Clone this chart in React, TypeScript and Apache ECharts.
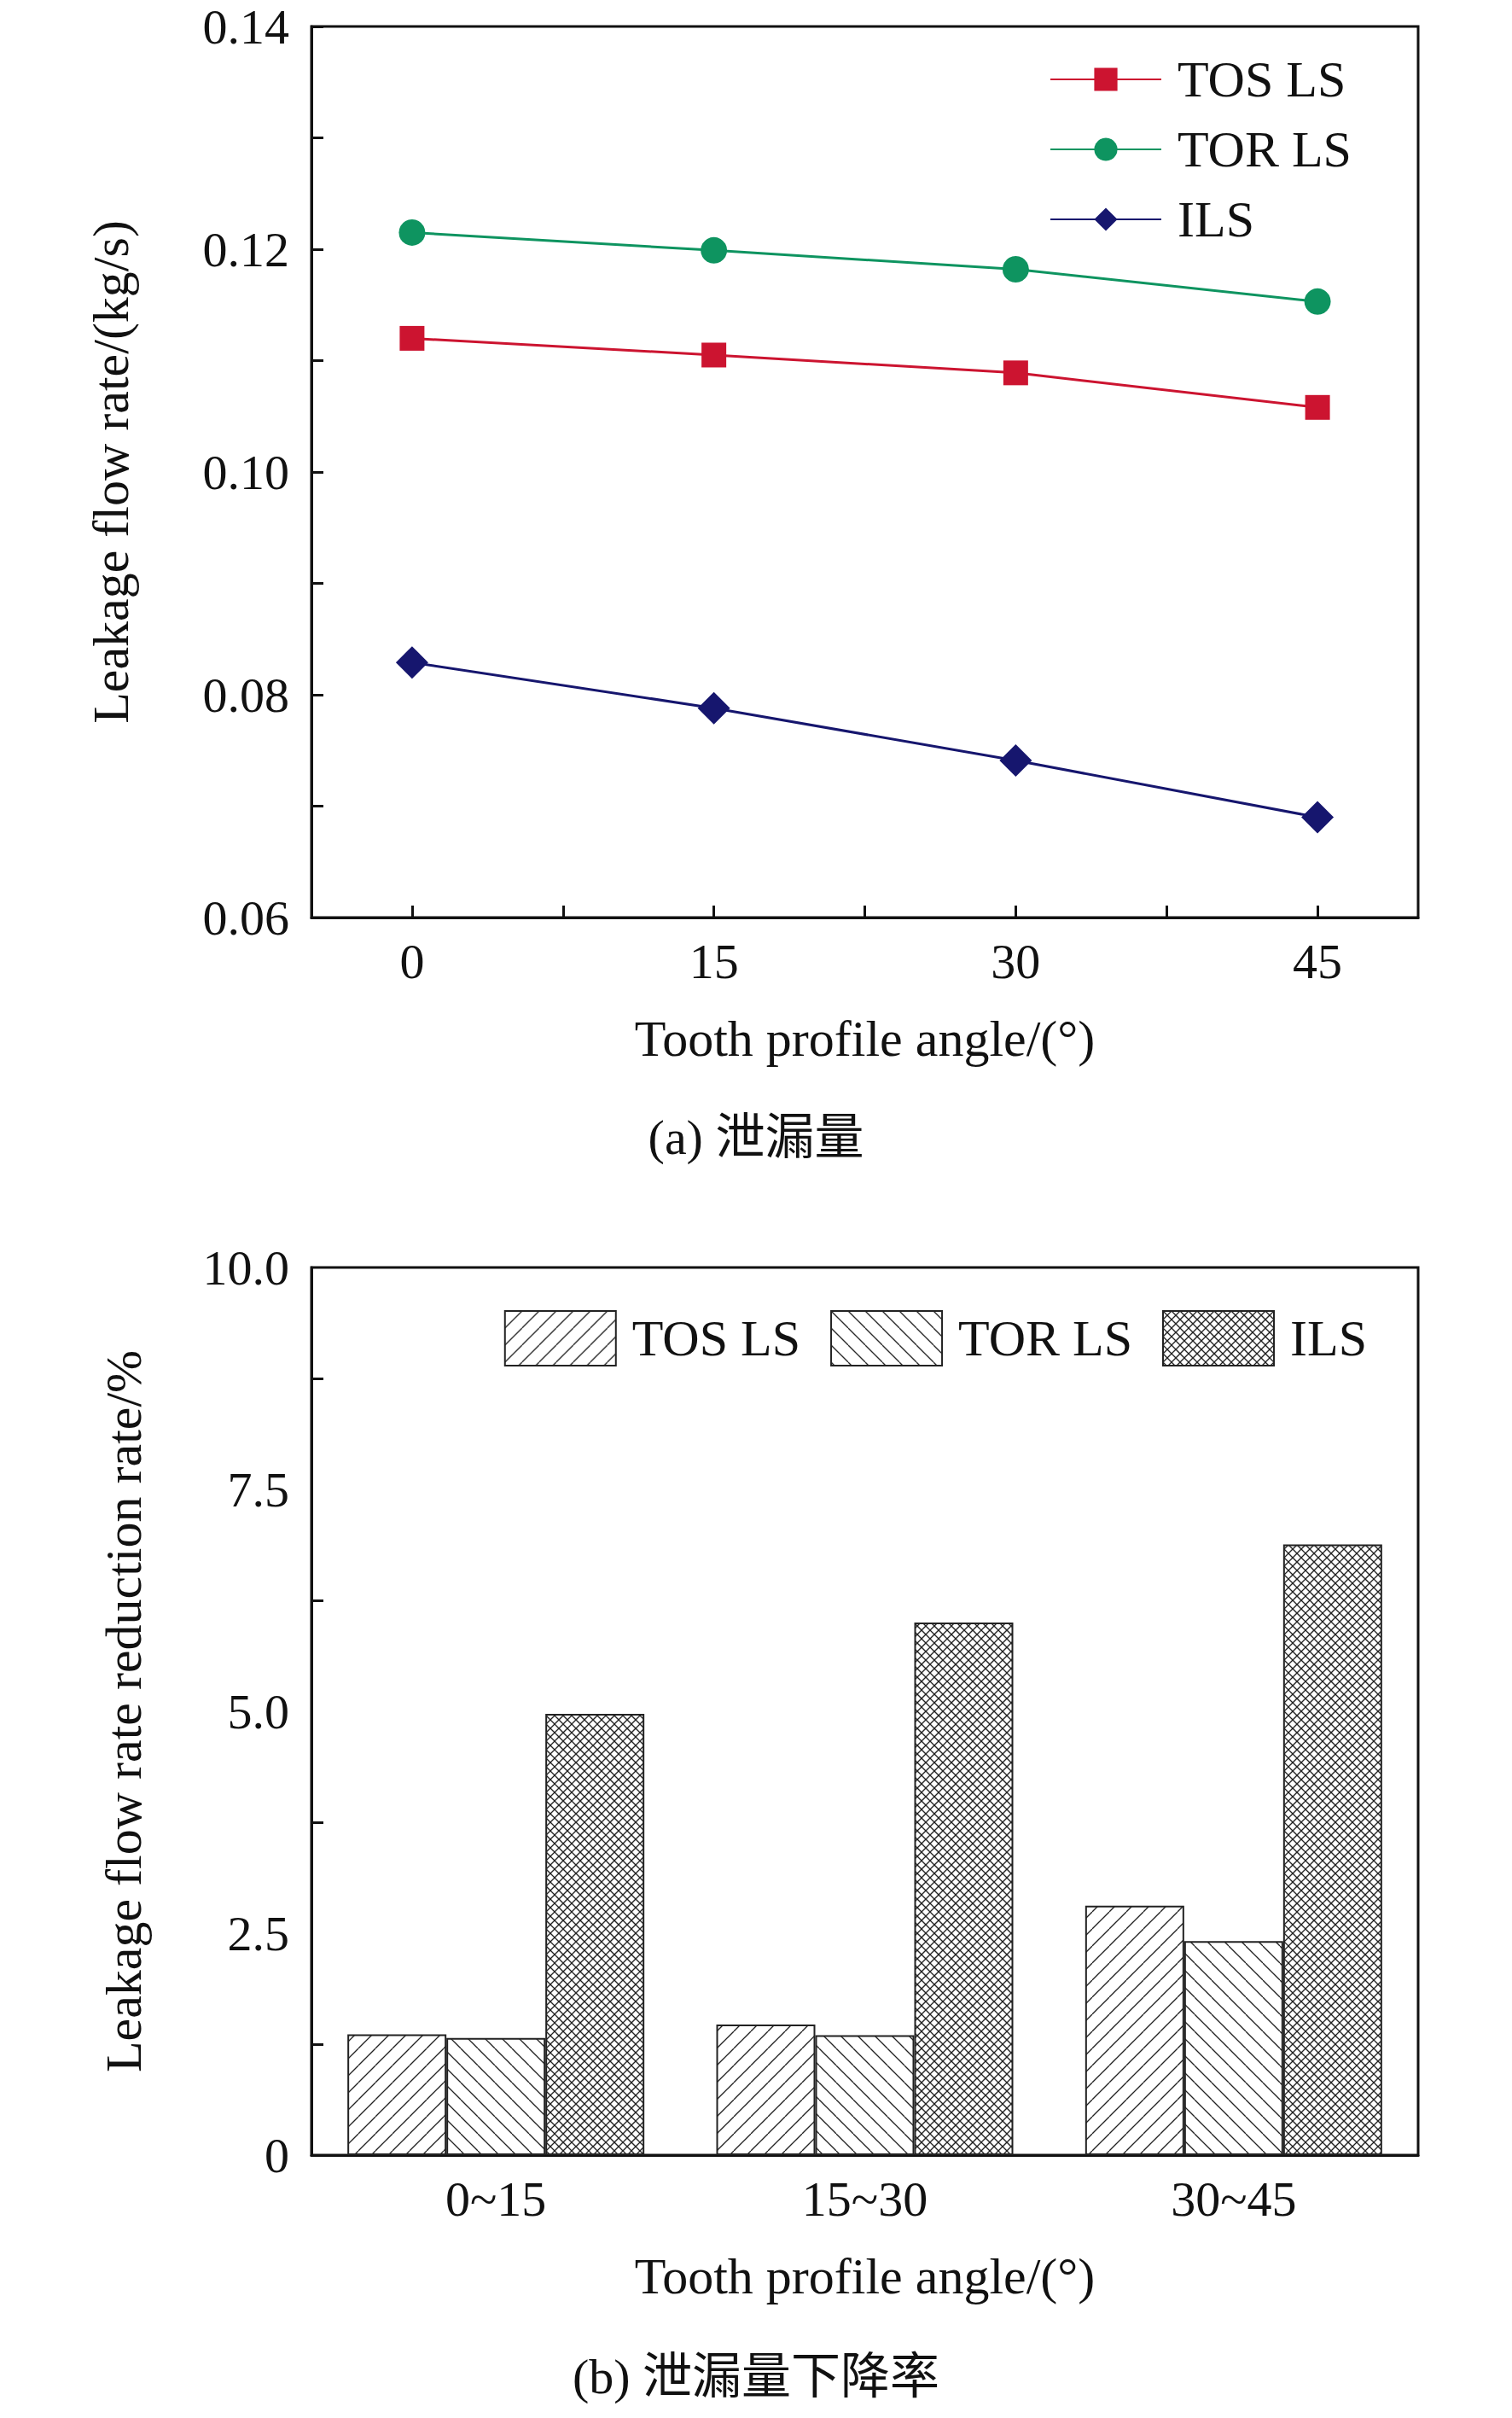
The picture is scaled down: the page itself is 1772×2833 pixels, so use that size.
import { useEffect, useRef } from 'react'
import * as echarts from 'echarts'

const angles = [0, 15, 30, 45]
const tosLeak = [0.112, 0.1105, 0.1089, 0.1058]
const torLeak = [0.1215, 0.1199, 0.1182, 0.1153]
const ilsLeak = [0.0829, 0.0788, 0.0741, 0.069]

const ranges = ['0~15', '15~30', '30~45']
const tosDrop = [1.36, 1.47, 2.81]
const torDrop = [1.32, 1.35, 2.41]
const ilsDrop = [4.97, 6.0, 6.88]

const FONT = '"Liberation Serif", "Noto Sans CJK SC", serif'

function hatch(kind: 'fwd' | 'back' | 'cross'): string {
  const s = 20
  const c = document.createElement('canvas')
  c.width = s
  c.height = s
  const g = c.getContext('2d')!
  g.fillStyle = '#fff'
  g.fillRect(0, 0, s, s)
  g.strokeStyle = '#222'
  g.lineWidth = 1.3
  const line = (x1: number, y1: number, x2: number, y2: number) => {
    g.beginPath()
    g.moveTo(x1, y1)
    g.lineTo(x2, y2)
    g.stroke()
  }
  if (kind === 'fwd' || kind === 'cross') {
    for (const o of [-s, 0, s]) line(o, s, o + s, 0)
  }
  if (kind === 'back' || kind === 'cross') {
    for (const o of [-s, 0, s]) line(o, 0, o + s, s)
  }
  if (kind === 'cross') {
    for (const o of [-s / 2, s / 2]) {
      line(o, s, o + s, 0)
      line(o, 0, o + s, s)
    }
  }
  return c.toDataURL()
}

export default function App() {
  const ref = useRef<HTMLDivElement | null>(null)

  useEffect(() => {
    document.body.style.margin = '0'
    const el = ref.current
    if (!el) return
    const chart = echarts.init(el, undefined, { renderer: 'svg' })
    const axisLabel = { color: '#111', fontFamily: FONT, fontSize: 58 }
    const nameStyle = { color: '#111', fontFamily: FONT, fontSize: 60 }
    const pat = (k: 'fwd' | 'back' | 'cross') => ({ image: hatch(k), repeat: 'repeat' })
    const barStyle = (k: 'fwd' | 'back' | 'cross') => ({ color: pat(k) as any, borderColor: '#222', borderWidth: 2 })
    const legendText = { color: '#111', fontFamily: FONT, fontSize: 60, padding: [0, 0, 0, 14] }

    chart.setOption({
      animation: false,
      backgroundColor: '#fff',
      grid: [
        { left: 365, right: 110, top: 31, height: 1044, show: true, borderColor: '#111', borderWidth: 3, backgroundColor: 'transparent' },
        { left: 365, right: 110, top: 1485, height: 1040, show: true, borderColor: '#111', borderWidth: 3, backgroundColor: 'transparent' },
      ],
      legend: [
        {
          data: ['TOS LS', 'TOR LS', 'ILS'],
          orient: 'vertical',
          left: 1225,
          top: 58,
          itemWidth: 130,
          itemHeight: 34,
          itemGap: 22,
          textStyle: legendText,
        },
        {
          data: ['TOS LS ', 'TOR LS ', 'ILS '],
          orient: 'horizontal',
          right: 150,
          top: 1530,
          itemWidth: 130,
          itemHeight: 64,
          itemGap: 20,
          icon: 'rect',
          textStyle: legendText,
        },
      ],
      xAxis: [
        {
          gridIndex: 0,
          type: 'value',
          min: -5,
          max: 50,
          name: 'Tooth profile angle/(°)',
          nameLocation: 'middle',
          nameGap: 112,
          nameTextStyle: nameStyle,
          axisLine: { onZero: false, lineStyle: { color: '#111', width: 3 } },
          axisTick: { show: true, inside: true, length: 14, lineStyle: { color: '#111', width: 3 }, customValues: [0, 7.5, 15, 22.5, 30, 37.5, 45] },
          axisLabel: { ...axisLabel, margin: 22, customValues: angles },
          splitLine: { show: false },
        },
        {
          gridIndex: 1,
          type: 'category',
          data: ranges,
          name: 'Tooth profile angle/(°)',
          nameLocation: 'middle',
          nameGap: 112,
          nameTextStyle: nameStyle,
          axisLine: { lineStyle: { color: '#111', width: 3 } },
          axisTick: { show: false },
          axisLabel: { ...axisLabel, margin: 22 },
        },
      ],
      yAxis: [
        {
          gridIndex: 0,
          type: 'value',
          min: 0.06,
          max: 0.14,
          interval: 0.02,
          name: 'Leakage flow rate/(kg/s)',
          nameLocation: 'middle',
          nameGap: 205,
          nameTextStyle: nameStyle,
          axisLine: { show: true, onZero: false, lineStyle: { color: '#111', width: 3 } },
          axisTick: { inside: true, length: 14, lineStyle: { color: '#111', width: 3 } },
          minorTick: { show: true, splitNumber: 2, length: 14, lineStyle: { color: '#111', width: 3 } },
          axisLabel: { ...axisLabel, margin: 26, formatter: (v: number) => v.toFixed(2) },
          splitLine: { show: false },
        },
        {
          gridIndex: 1,
          type: 'value',
          min: 0,
          max: 10,
          interval: 2.5,
          name: 'Leakage flow rate reduction rate/%',
          nameLocation: 'middle',
          nameGap: 190,
          nameTextStyle: nameStyle,
          axisLine: { show: true, onZero: false, lineStyle: { color: '#111', width: 3 } },
          axisTick: { inside: true, length: 14, lineStyle: { color: '#111', width: 3 } },
          minorTick: { show: true, splitNumber: 2, length: 14, lineStyle: { color: '#111', width: 3 } },
          axisLabel: { ...axisLabel, margin: 26, formatter: (v: number) => (v === 0 ? '0' : v.toFixed(1)) },
          splitLine: { show: false },
        },
      ],
      series: [
        {
          name: 'TOS LS', type: 'line', xAxisIndex: 0, yAxisIndex: 0,
          data: angles.map((a, i) => [a, tosLeak[i]]),
          symbol: 'rect', symbolSize: 29,
          lineStyle: { color: '#cc1430', width: 3 }, itemStyle: { color: '#cc1430' },
        },
        {
          name: 'TOR LS', type: 'line', xAxisIndex: 0, yAxisIndex: 0,
          data: angles.map((a, i) => [a, torLeak[i]]),
          symbol: 'circle', symbolSize: 31,
          lineStyle: { color: '#0e9460', width: 3 }, itemStyle: { color: '#0e9460' },
        },
        {
          name: 'ILS', type: 'line', xAxisIndex: 0, yAxisIndex: 0,
          data: angles.map((a, i) => [a, ilsLeak[i]]),
          symbol: 'diamond', symbolSize: 38,
          lineStyle: { color: '#16166e', width: 3 }, itemStyle: { color: '#16166e' },
        },
        { name: 'TOS LS ', type: 'bar', xAxisIndex: 1, yAxisIndex: 1, data: tosDrop, barWidth: 116, barGap: '0%', itemStyle: barStyle('fwd') },
        { name: 'TOR LS ', type: 'bar', xAxisIndex: 1, yAxisIndex: 1, data: torDrop, barWidth: 116, barGap: '0%', itemStyle: barStyle('back') },
        { name: 'ILS ', type: 'bar', xAxisIndex: 1, yAxisIndex: 1, data: ilsDrop, barWidth: 116, barGap: '0%', itemStyle: barStyle('cross') },
      ],
      graphic: [
        { type: 'text', left: 'center', top: 1303, style: { text: '(a) 泄漏量', font: `58px ${FONT}`, fill: '#111' } },
        { type: 'text', left: 'center', top: 2755, style: { text: '(b) 泄漏量下降率', font: `58px ${FONT}`, fill: '#111' } },
      ],
    })
    return () => chart.dispose()
  }, [])

  return <div ref={ref} style={{ width: 1772, height: 2833 }} />
}
